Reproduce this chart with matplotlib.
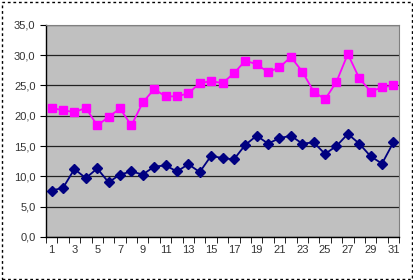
import matplotlib
matplotlib.use("Agg")
import matplotlib.pyplot as plt
from matplotlib.patches import Rectangle
import numpy as np

days = list(range(1, 32))
series_pink = [21.3, 20.9, 20.6, 21.3, 18.4, 19.8, 21.2, 18.4, 22.2, 24.4,
               23.2, 23.2, 23.7, 25.4, 25.7, 25.4, 27.0, 29.1, 28.5, 27.2,
               28.0, 29.7, 27.3, 24.0, 22.7, 25.6, 30.2, 26.2, 24.0, 24.7, 25.0]
series_navy = [7.65, 8.1, 11.2, 9.7, 11.3, 9.0, 10.3, 10.8, 10.3, 11.6,
               11.8, 10.8, 12.0, 10.7, 13.4, 13.0, 12.8, 15.2, 16.7, 15.4,
               16.3, 16.7, 15.4, 15.6, 13.7, 15.0, 17.0, 15.4, 13.3, 12.1, 15.6]
y_ticks = [0, 5, 10, 15, 20, 25, 30, 35]
y_labels = ["0,0", "5,0", "10,0", "15,0", "20,0", "25,0", "30,0", "35,0"]
x_labels = [str(d) for d in days[::2]]

plt.rcParams['font.family'] = ['Liberation Sans', 'DejaVu Sans']

fig = plt.figure(figsize=(4.14, 2.80), dpi=100)
fig.patch.set_facecolor("white")
fig.patches.append(Rectangle((0.004, 0.005), 0.990, 0.988, transform=fig.transFigure,
                             fill=False, edgecolor="black", linewidth=1.0,
                             linestyle=(0, (2, 2)), zorder=0))

ax = fig.add_axes([0.111, 0.154, 0.853, 0.757])
ax.set_facecolor("#c0c0c0")
ax.plot(days, series_pink, color="#ff00ff", linewidth=1.3, marker="s",
        markersize=6, markerfacecolor="#ff00ff", markeredgecolor="#ff00ff", zorder=3)
ax.plot(days, series_navy, color="#000080", linewidth=1.3, marker="D",
        markersize=5, markerfacecolor="#000080", markeredgecolor="#000080", zorder=3)

ax.set_xlim(0.5, 31.5)
ax.set_ylim(0, 35)
ax.set_yticks(y_ticks)
ax.set_yticklabels(y_labels)
ax.set_xticks(days[::2])
ax.set_xticklabels(x_labels)
ax.set_xticks(np.arange(0.5, 32, 1.0), minor=True)
ax.tick_params(axis="x", which="major", length=0, pad=6, labelsize=8, colors="#333333")
ax.tick_params(axis="x", which="minor", length=4, direction="out", color="black")
ax.tick_params(axis="y", length=4, direction="out", labelsize=8, colors="#333333")
ax.tick_params(axis="y", color="black")
ax.grid(axis="y", color="#222222", linewidth=0.9, zorder=1)
ax.set_axisbelow(True)
for side in ["top", "right"]:
    ax.spines[side].set_color("#808080")
    ax.spines[side].set_linewidth(0.8)
for side in ["left", "bottom"]:
    ax.spines[side].set_color("black")
    ax.spines[side].set_linewidth(1.0)

fig.savefig("out.png", dpi=100)
